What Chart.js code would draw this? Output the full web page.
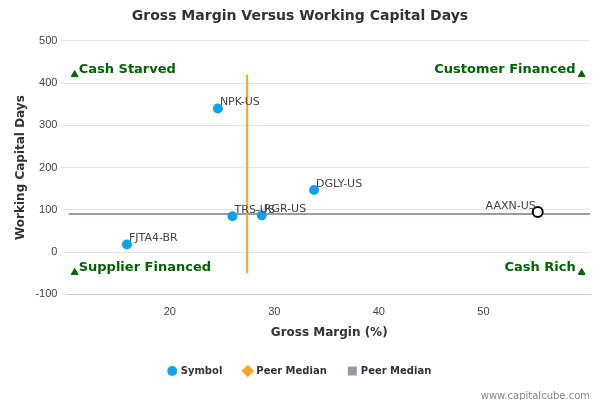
<!DOCTYPE html>
<html><head><meta charset="utf-8">
<script src="https://cdn.jsdelivr.net/npm/chart.js@4/dist/chart.umd.min.js"></script>
<style>body{margin:0;background:#fff}#w{width:600px;height:400px;position:relative}</style>
</head><body><div id="w"><canvas id="c" width="600" height="400"></canvas></div>
<script>
const symbols=["NPK-US","DGLY-US","TRS-US","RGR-US","FJTA4-BR","AAXN-US"];
const grossMargin=[24.6,33.8,26.0,28.8,15.9,55.2];
const wcDays=[340,147,85,87,18,95];
const medianX=27.4, medianY=90;
const xTicks=[20,30,40,50];
const quadrantLabels=["Cash Starved","Customer Financed","Supplier Financed","Cash Rich"];
const quadX=[10.9,59.4,10.9,59.4], quadY=[420,420,-48,-48];
const xMin=10.3,xMax=60.2,yMin=-100,yMax=500;

const labelPlugin={id:'lbl',afterDatasetsDraw(ch){
  const c=ch.ctx,xs=ch.scales.x,ys=ch.scales.y;
  c.save();c.font='11px "DejaVu Sans", sans-serif';c.fillStyle='#444';
  symbols.forEach((s,i)=>{const x=xs.getPixelForValue(grossMargin[i]),y=ys.getPixelForValue(wcDays[i]);
    if(i===5){c.textAlign='right';c.fillText(s,x-2,y-6);}else{c.textAlign='left';c.fillText(s,x+2,y-6);} });
  c.font='bold 13px "DejaVu Sans", sans-serif';c.fillStyle='#006400';
  quadrantLabels.forEach((t,i)=>{const x=xs.getPixelForValue(quadX[i]),y=ys.getPixelForValue(quadY[i]);
    c.textAlign=i%2?'right':'left';c.fillText(t,i%2?x-6:x+4,y-5);});
  c.font='10px "DejaVu Sans", sans-serif';c.fillStyle='#888';c.textAlign='right';
  c.fillText('www.capitalcube.com',590,396);
  c.restore();}};

new Chart(document.getElementById('c'),{type:'scatter',
 data:{datasets:[
  {label:'Symbol',data:symbols.map((s,i)=>({x:grossMargin[i],y:wcDays[i]})),
   backgroundColor:symbols.map((s,i)=>i===5?'#ffffff':'#0da2f0'),borderColor:symbols.map((s,i)=>i===5?'#000':'#0da2f0'),
   borderWidth:symbols.map((s,i)=>i===5?2:0),pointRadius:5,pointStyle:'circle'},
  {label:'Peer Median',data:[{x:medianX,y:-50},{x:medianX,y:420}],showLine:true,borderColor:'#f7a427',backgroundColor:'#f7a427',borderWidth:2,pointRadius:0,pointStyle:'rectRot'},
  {label:'Peer Median',data:[{x:xMin,y:medianY},{x:xMax,y:medianY}],showLine:true,borderColor:'#9a9ca5',backgroundColor:'#9a9ca5',borderWidth:2,pointRadius:0,pointStyle:'rect'},
  {label:'q',data:quadX.map((x,i)=>({x,y:quadY[i]})),pointStyle:'triangle',pointRadius:4,backgroundColor:'#006400',borderColor:'#006400'}
 ]},
 options:{responsive:false,animation:false,
  layout:{padding:{left:10,right:10,top:0,bottom:14}},
  plugins:{title:{display:true,text:'Gross Margin Versus Working Capital Days',font:{family:'DejaVu Sans',size:14,weight:'bold'},color:'#333',padding:{top:8,bottom:16}},
   tooltip:{enabled:false},
   legend:{position:'bottom',labels:{filter:i=>i.text!=='q',usePointStyle:true,boxWidth:7,boxHeight:7,font:{family:'DejaVu Sans',size:10,weight:'bold'},color:'#333',padding:22,
     generateLabels:ch=>Chart.defaults.plugins.legend.labels.generateLabels(ch).map((l,i)=>{if(i===0){l.fillStyle='#0da2f0';l.strokeStyle='#0da2f0';}return l;})}}},
  scales:{x:{min:xMin,max:xMax,grid:{display:false},border:{color:'#ccc'},
     afterBuildTicks:a=>{a.ticks=xTicks.map(v=>({value:v}));},ticks:{color:'#444',font:{size:11}},
     title:{display:true,text:'Gross Margin (%)',font:{family:'DejaVu Sans',size:12,weight:'bold'},color:'#333'}},
   y:{min:yMin,max:yMax,grid:{color:'#e4e4e4'},border:{display:false},ticks:{stepSize:100,color:'#444',font:{size:11}},
     title:{display:true,text:'Working Capital Days',font:{family:'DejaVu Sans',size:12,weight:'bold'},color:'#333'}}}},
 plugins:[labelPlugin]});
</script></body></html>
